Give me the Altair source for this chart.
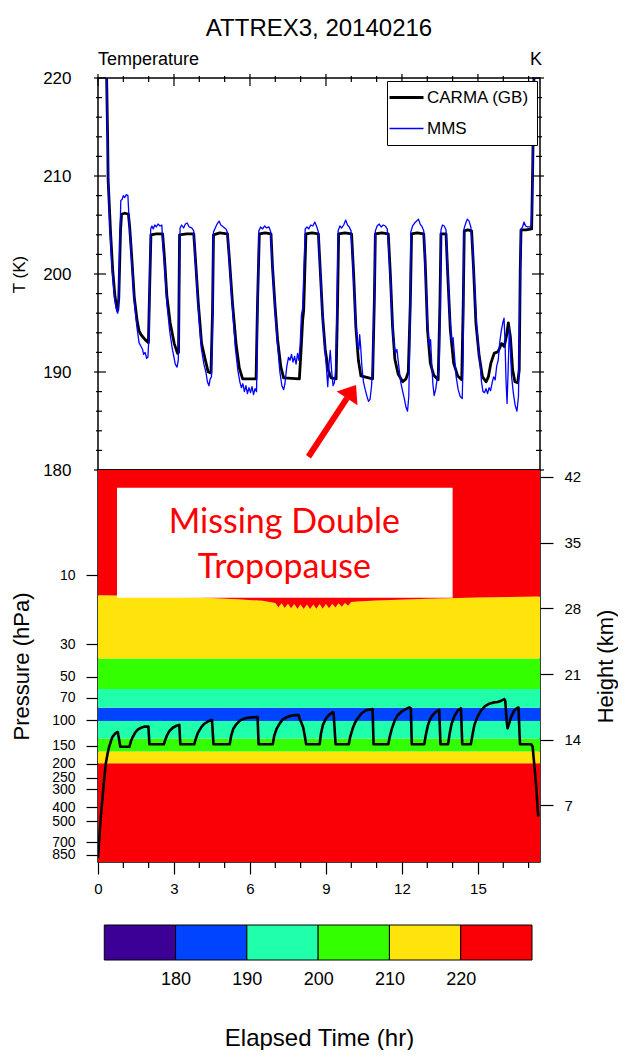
import altair as alt
import pandas as pd

# ---------------- data ----------------
series_names = ["CARMA (GB)", "MMS"]

carma_t = [0.28, 0.34, 0.38, 0.40, 0.49, 0.58, 0.67, 0.74, 0.78, 0.82, 0.86, 0.89, 0.93, 1.05, 1.20,
           1.25, 1.33, 1.43, 1.54, 1.62, 1.70, 1.86, 1.99, 2.04, 2.09, 2.30, 2.55, 2.62, 2.72, 2.85,
           3.01, 3.14, 3.18, 3.22, 3.50, 3.78, 3.84, 3.96, 4.09, 4.24, 4.35, 4.46, 4.52, 4.56, 4.80,
           5.11, 5.18, 5.31, 5.45, 5.58, 5.71, 6.24, 6.30, 6.37, 6.60, 6.83, 6.89, 6.99, 7.09, 7.22,
           7.33, 7.95, 8.01, 8.08, 8.12, 8.17, 8.21, 8.45, 8.70, 8.78, 8.87, 8.97, 9.09, 9.20, 9.40,
           9.46, 9.50, 9.75, 10.01, 10.09, 10.18, 10.28, 10.38, 10.84, 10.91, 10.95, 11.20, 11.46,
           11.54, 11.63, 11.72, 11.85, 12.03, 12.16, 12.25, 12.33, 12.38, 12.60, 12.86, 12.92, 13.01,
           13.12, 13.25, 13.43, 13.50, 13.54, 13.74, 13.80, 13.91, 14.04, 14.20, 14.36, 14.42, 14.46,
           14.60, 14.75, 14.83, 14.92, 15.05, 15.18, 15.32, 15.41, 15.51, 15.64, 15.80, 15.93, 16.04,
           16.12, 16.20, 16.28, 16.37, 16.46, 16.57, 16.63, 16.67, 16.70, 16.90, 17.12, 17.16, 17.21,
           17.25]
carma_T = [232, 220.1, 214.0, 209.6, 204.5, 200.4, 197.7, 196.6, 196.3, 197.5, 201.5, 204.5, 206.1, 206.2, 206.1,
           204.8, 201.8, 197.7, 195.3, 194.2, 193.8, 193.3, 193.0, 198.7, 204.0, 204.1, 204.1, 201.8, 197.7, 195.0,
           192.9, 191.9, 192.0, 204.0, 204.1, 204.1, 201.8, 197.0, 192.9, 191.2, 190.0, 189.9, 196.0, 204.0, 204.2,
           204.1, 201.8, 197.0, 192.9, 190.4, 189.3, 189.3, 197.3, 204.1, 204.2, 204.1, 200.7, 196.7, 193.3, 190.5,
           189.4, 189.3, 191.9, 195.3, 196.3, 200.7, 204.1, 204.2, 204.1, 200.1, 195.6, 192.3, 190.2, 189.4, 189.3,
           197.3, 204.1, 204.2, 204.1, 200.1, 194.6, 191.2, 189.6, 189.3, 197.3, 204.1, 204.2, 204.1,
           200.1, 194.6, 191.3, 189.8, 189.0, 189.3, 190.0, 197.0, 204.1, 204.2, 204.1, 201.1, 194.3,
           190.9, 189.7, 189.2, 197.0, 204.1, 204.1, 200.4, 194.3, 190.9, 189.6, 189.2, 197.0, 204.4,
           204.5, 204.4, 200.4, 195.0, 191.6, 189.5, 189.0, 189.5, 190.9, 191.9, 192.1, 192.9, 192.6,
           193.6, 195.0, 193.6, 190.2, 189.0, 188.9, 190.2, 200.4, 204.5, 204.5, 204.6, 210.6, 219.9,
           228]

mms_t = [0.30, 0.34, 0.38, 0.41, 0.48, 0.57, 0.66, 0.74, 0.78, 0.82, 0.86, 0.90, 0.95, 1.00, 1.05, 1.12,
         1.18, 1.21, 1.25, 1.33, 1.43, 1.53, 1.62, 1.70, 1.76, 1.80, 1.86, 1.92, 1.97, 2.02, 2.05, 2.08,
         2.13, 2.18, 2.24, 2.30, 2.37, 2.45, 2.52, 2.55, 2.62, 2.72, 2.83, 2.93, 3.00, 3.05, 3.12, 3.17,
         3.21, 3.24, 3.30, 3.38, 3.45, 3.52, 3.60, 3.70, 3.78, 3.84, 3.96, 4.08, 4.18, 4.26, 4.32, 4.38,
         4.43, 4.48, 4.52, 4.56, 4.63, 4.70, 4.78, 4.85, 4.95, 5.05, 5.12, 5.18, 5.30, 5.42, 5.52, 5.60,
         5.66, 5.72, 5.78, 5.84, 5.90, 5.96, 6.02, 6.08, 6.14, 6.20, 6.26, 6.30, 6.35, 6.42, 6.50, 6.58,
         6.66, 6.75, 6.82, 6.88, 6.98, 7.08, 7.18, 7.26, 7.33, 7.38, 7.45, 7.52, 7.58, 7.64, 7.70, 7.76,
         7.82, 7.88, 7.93, 7.98, 8.03, 8.08, 8.13, 8.18, 8.25, 8.32, 8.40, 8.48, 8.56, 8.64, 8.70, 8.77,
         8.86, 8.95, 9.02, 9.07, 9.12, 9.17, 9.22, 9.28, 9.33, 9.38, 9.44, 9.48, 9.55, 9.62, 9.70, 9.78,
         9.85, 9.92, 9.99, 10.06, 10.14, 10.20, 10.26, 10.30, 10.33, 10.37, 10.42, 10.48, 10.55, 10.62,
         10.68, 10.74, 10.80, 10.86, 10.91, 10.95, 11.02, 11.10, 11.18, 11.26, 11.34, 11.42, 11.48,
         11.55, 11.63, 11.70, 11.75, 11.80, 11.88, 11.95, 12.03, 12.10, 12.16, 12.22, 12.27, 12.31,
         12.35, 12.42, 12.50, 12.58, 12.65, 12.72, 12.80, 12.86, 12.92, 13.00, 13.06, 13.10, 13.13,
         13.17, 13.22, 13.27, 13.33, 13.40, 13.47, 13.51, 13.54, 13.60, 13.67, 13.74, 13.80, 13.88,
         13.96, 14.02, 14.07, 14.14, 14.22, 14.30, 14.38, 14.42, 14.45, 14.52, 14.58, 14.65, 14.72,
         14.78, 14.86, 14.94, 15.02, 15.08, 15.14, 15.20, 15.26, 15.32, 15.38, 15.44, 15.50, 15.56,
         15.62, 15.68, 15.74, 15.80, 15.86, 15.92, 15.98, 16.03, 16.07, 16.11, 16.15, 16.19, 16.24,
         16.28, 16.33, 16.40, 16.47, 16.54, 16.60, 16.65, 16.69, 16.76, 16.82, 16.88, 16.96, 17.05,
         17.10, 17.14, 17.17, 17.21, 17.24]
mms_T = [232, 220, 213.5, 209, 204, 200, 197.4, 196.2, 196.0, 197.5, 203, 207.5, 207.6, 208.0, 207.8, 208.1,
         208.0, 206.5, 204.5, 201.3, 197.2, 194.7, 193.0, 192.6, 192.3, 191.8, 192.0, 191.4, 191.5, 194, 201, 204.6,
         204.9, 204.6, 205.0, 204.8, 205.1, 204.9, 205.0, 203.5, 201.2, 197.0, 194.2, 192.4, 191.5, 190.8, 190.5, 191.2,
         198, 204.7, 205.0, 204.7, 205.1, 205.2, 204.8, 204.7, 204.4, 201.5, 196.5, 192.4, 190.8, 190.0, 189.0, 188.6,
         189.3, 189.5, 195, 204.3, 204.7, 205.1, 205.4, 205.0, 204.8, 204.6, 204.2, 201.5, 196.8, 192.5, 190.2, 189.0,
         188.4, 188.8, 188.0, 188.6, 187.8, 188.4, 187.9, 188.5, 187.7, 188.3, 188.0, 196, 204.4, 204.8, 204.6, 204.9,
         204.7, 204.8, 204.3, 201, 196.8, 193.0, 190.0, 188.6, 188.2, 188.8, 190.5, 191.5, 191.2, 191.8, 191.0, 191.6,
         190.8, 191.9, 191.2, 192.8, 195.8, 196.5, 200.5, 204.6, 204.8, 204.6, 205.0, 204.9, 205.3, 204.8, 204.3, 200.5,
         196.0, 192.6, 190.4, 188.5, 190.8, 192.2, 190.2, 188.6, 188.9, 190.0, 197, 204.4, 204.9, 204.7, 205.0, 205.5,
         205.0, 204.8, 204.4, 201.0, 196.8, 194.2, 192.5, 192.3, 193.8, 192.6, 190.5, 189.0, 188.2, 187.5,
         187.0, 187.2, 188.6, 191.5, 198, 204.4, 204.9, 205.1, 204.8, 205.0, 204.9, 204.6, 202.5,
         199.0, 194.5, 192.5, 192.0, 192.3, 190.5, 189.0, 188.0, 187.2, 186.4, 186.0, 187.5, 193,
         204.3, 204.9, 205.2, 205.4, 205.6, 205.1, 204.8, 204.4, 200.8, 195.5, 193.0, 192.6, 193.3,
         191.2, 188.8, 187.6, 188.2, 189.5, 190.2, 197, 204.5, 205.0, 204.9, 204.5, 201.0, 196.0,
         193.2, 193.5, 191.8, 189.5, 188.2, 187.5, 187.3, 192, 204.6, 205.2, 205.6, 205.4, 204.8,
         203.0, 199.0, 195.0, 192.5, 191.0, 189.0, 188.0, 187.9, 188.3, 187.8, 188.4, 188.1, 188.9,
         189.5, 189.2, 190.6, 191.2, 193.0, 194.2, 195.0, 195.5, 193.0, 189.0, 186.8, 190.0, 194.5,
         192.5, 189.5, 187.8, 186.6, 186.0, 187.5, 196, 204.5, 204.8, 205.3, 204.9, 204.8, 204.8,
         204.9, 207.0, 213.0, 220.0, 228]

# tropopause pressure along the flight (hPa)
trop_t = [0.00, 0.09, 0.18, 0.25, 0.31, 0.38, 0.44, 0.52, 0.58, 0.66, 0.73, 0.78, 0.83, 0.88, 1.24, 1.30,
          1.38, 1.48, 1.58, 1.70, 1.83, 1.99, 2.03, 2.60, 2.65, 2.72, 2.82, 2.95, 3.10, 3.21, 3.25, 3.80,
          3.86, 3.95, 4.08, 4.20, 4.35, 4.50, 4.56, 5.20, 5.26, 5.34, 5.46, 5.60, 5.75, 5.91, 6.10, 6.30,
          6.34, 6.90, 6.96, 7.05, 7.18, 7.30, 7.45, 7.62, 7.80, 7.92, 7.98, 8.02, 8.06, 8.10, 8.15, 8.22,
          8.75, 8.80, 8.88, 9.00, 9.12, 9.26, 9.30, 9.38, 9.90, 9.96, 10.05, 10.15, 10.25, 10.40, 10.58,
          10.84, 10.88, 11.46, 11.52, 11.60, 11.72, 11.83, 12.00, 12.15, 12.29, 12.35, 12.39, 12.88,
          12.95, 13.03, 13.12, 13.22, 13.35, 13.47, 13.52, 13.82, 13.88, 13.96, 14.07, 14.20, 14.33,
          14.38, 14.72, 14.78, 14.86, 14.98, 15.12, 15.28, 15.45, 15.62, 15.78, 15.92, 16.04, 16.08,
          16.13, 16.17, 16.22, 16.30, 16.43, 16.55, 16.60, 16.66, 17.10, 17.16, 17.22, 17.29, 17.38]
trop_p = [903, 517, 339, 250, 199, 170, 153, 138, 130, 125, 122, 121, 135, 153, 153, 140,
          130, 121, 116, 113, 111, 111, 147, 147, 138, 128, 119, 113, 109.5, 108, 147, 147,
          135, 122, 112, 106, 102, 100, 147, 147, 128, 115, 107, 101, 98, 96.5, 95.8, 95.5,
          147, 147, 128, 115, 105, 99, 95.5, 93.3, 92.5, 92.4, 100, 103, 108, 112, 125, 147,
          147, 125, 108, 97.5, 92, 88.4, 89, 147, 147, 130, 115, 104, 97.5, 90, 85.5,
          84, 147, 147, 130, 115, 100, 92.5, 87, 84, 81.7, 83, 147, 147,
          125, 108, 98, 92, 87.5, 85, 147, 147, 125, 106, 94, 86, 83,
          147, 147, 128, 108, 95, 86, 80, 77, 75.5, 75, 73.5, 71.7, 74,
          100, 114, 107, 96, 86, 82.5, 82, 147, 147, 153, 200, 273, 465]

# temperature layers of the contour field: boundaries (hPa) from the bottom up
layer_p = [957, 199, 165, 134, 101.6, 82.2, 61.1, 37.5]
layer_T = [225, 215, 205, 195, 185, 195, 205, 215]   # temperature inside each layer (K)
top_T = 225                                          # above the wavy 220 K contour
edge_t = [0, 2, 4, 5.5, 6.5, 7.0, 7.12, 7.25, 7.37, 7.5, 7.62, 7.75, 7.87, 8.0, 8.12, 8.25, 8.37,
          8.5, 8.62, 8.75, 8.87, 9.0, 9.12, 9.25, 9.37, 9.5, 9.62, 9.75, 9.87, 10.0, 10.4, 11, 13,
          15, 17.45]
edge_p = [13.7, 13.9, 14.2, 14.6, 15.0, 15.5, 16.6, 15.6, 16.8, 15.7, 16.9, 15.8, 17.0, 15.9, 17.1,
          15.9, 17.1, 15.9, 17.0, 15.8, 17.0, 15.8, 16.9, 15.7, 16.7, 15.6, 16.5, 15.5, 16.2, 15.3,
          15.1, 14.9, 14.5, 14.2, 14.0]

levels = [180, 190, 200, 210, 220]
level_colors = ["#3c0096", "#0044ff", "#20ffaa", "#33ff00", "#ffe40c", "#fa0006"]
cb_lo = [170, 180, 190, 200, 210, 220]
cb_hi = [180, 190, 200, 210, 220, 230]

t_major = [0, 3, 6, 9, 12, 15]
t_minor = [1, 2, 4, 5, 7, 8, 10, 11, 13, 14, 16, 17]
T_major = [180, 190, 200, 210, 220]
T_minor = [v for v in range(182, 220, 2) if v % 10 != 0]
p_ticks = [10, 30, 50, 70, 100, 150, 200, 250, 300, 400, 500, 700, 850]
z_ticks = [7, 14, 21, 28, 35, 42]

# ---------------- frames ----------------
T_END = 17.45
P_TOP, P_BOT = 1.87, 957
FONT = "Liberation Sans"
W, H = 442, 392

temp_df = pd.concat([
    pd.DataFrame({"t": carma_t, "T": carma_T, "series": series_names[0]}),
    pd.DataFrame({"t": mms_t, "T": mms_T, "series": series_names[1]}),
], ignore_index=True)

rows = []
n = len(layer_T)
for i in range(n):
    if i < n - 1:
        for tt in (0, T_END):
            rows.append({"band": i, "t": tt, "p0": layer_p[i], "p1": layer_p[i + 1], "T": layer_T[i]})
    else:
        for tt, pe in zip(edge_t, edge_p):
            rows.append({"band": i, "t": tt, "p0": layer_p[i], "p1": pe, "T": layer_T[i]})
for tt, pe in zip(edge_t, edge_p):
    rows.append({"band": n, "t": tt, "p0": pe, "p1": P_TOP, "T": top_T})
band_df = pd.DataFrame(rows)
trop_df = pd.DataFrame({"t": trop_t, "p": trop_p})
cb_df = pd.DataFrame({"lo": cb_lo, "hi": cb_hi, "mid": [(a + b) / 2 for a, b in zip(cb_lo, cb_hi)]})
one = pd.DataFrame({"a": [0]})

x_scale = alt.Scale(domain=[0, T_END], nice=False, zero=False)
T_scale = alt.Scale(domain=[180, 220], nice=False, zero=False)
p_scale = alt.Scale(type="log", domain=[P_TOP, P_BOT], reverse=True, nice=False)
z_scale = alt.Scale(domain=[0.97, 42.74], nice=False, zero=False)
c_scale = alt.Scale(type="threshold", domain=levels, range=level_colors)

# ---------------- upper panel: temperature ----------------
T_axis = alt.Axis(values=T_major, ticks=True, tickSize=8, tickOpacity=0, domain=False, grid=False,
                  labelPadding=19, labelFontSize=17, title="T (K)", titleFontSize=17, titlePadding=14,
                  format="d")
leg = alt.Legend(title=None, orient="top-right", offset=3, symbolType="M-1.7,0H1.7", symbolSize=400,
                 symbolOffset=3, symbolStrokeWidth=alt.ExprRef("datum.value == 'MMS' ? 1.3 : 2.8"),
                 labelFontSize=17, labelFont=FONT, labelColor="black", padding=8, rowPadding=13,
                 strokeColor="black", fillColor="white", labelOffset=12, cornerRadius=0)

lines = alt.Chart(temp_df).mark_line(clip=True, strokeJoin="round").encode(
    x=alt.X("t:Q", scale=x_scale, axis=None),
    y=alt.Y("T:Q", scale=T_scale, axis=T_axis),
    color=alt.Color("series:N", scale=alt.Scale(domain=series_names, range=["black", "#0000ff"]), legend=leg),
    strokeWidth=alt.StrokeWidth("series:N", scale=alt.Scale(domain=series_names, range=[2.8, 1.3]), legend=None),
)


def xticks(vals, a, b):
    return alt.Chart(pd.DataFrame({"v": vals})).mark_rule(color="black", strokeWidth=1.2).encode(
        x=alt.X("v:Q", scale=x_scale, axis=None), y=alt.value(a), y2=alt.value(b))


def yticks(vals, a, b):
    return alt.Chart(pd.DataFrame({"v": vals})).mark_rule(color="black", strokeWidth=1.2).encode(
        y=alt.Y("v:Q", scale=T_scale, axis=T_axis), x=alt.value(a), x2=alt.value(b))


tick_layers = [
    xticks(t_major, -4, 8), xticks(t_minor, -2, 4),
    yticks(T_major, -4, 8), yticks(T_minor, -2, 4),
    yticks(T_major, W + 4, W - 8), yticks(T_minor, W + 2, W - 4),
]

arrow_shaft = alt.Chart(one).mark_rule(color="#ff0000", strokeWidth=6).encode(
    x=alt.datum(8.31), y=alt.datum(181.35), x2=alt.datum(9.83), y2=alt.datum(187.33))
arrow_head = alt.Chart(one).mark_point(shape="M-1,0.65L0,-0.65L1,0.65Z", size=625, filled=True,
                                       color="#ff0000", opacity=1, angle=33.5).encode(
    x=alt.datum(10.01), y=alt.datum(187.99))

left_str = alt.Chart(one).mark_text(text="Temperature", align="left", baseline="alphabetic",
                                    fontSize=18, font=FONT, color="black").encode(
    x=alt.value(0), y=alt.value(-13))
right_str = alt.Chart(one).mark_text(text="K", align="right", baseline="alphabetic",
                                     fontSize=18, font=FONT, color="black").encode(
    x=alt.value(W + 2), y=alt.value(-13))

upper = alt.layer(lines, *tick_layers, arrow_shaft, arrow_head, left_str, right_str).properties(
    width=W, height=H,
    title=alt.TitleParams("ATTREX3, 20140216", fontSize=24, fontWeight="normal", font=FONT,
                          anchor="middle", frame="group", offset=10, color="black"),
)

# ---------------- lower panel: temperature field vs pressure ----------------
x_axis_b = alt.Axis(values=t_major, tickSize=12, tickWidth=1.2, labelPadding=7, labelFontSize=15,
                    domain=False, grid=False, format="d", labelFlush=False)
p_axis = alt.Axis(values=p_ticks, format="d", tickSize=12, tickWidth=1.2, labelPadding=11,
                  labelFontSize=14, domain=False, grid=False, title="Pressure (hPa)",
                  titleFontSize=22, titlePadding=18, labelOverlap=False)

bands = alt.Chart(band_df).mark_area(clip=True).encode(
    x=alt.X("t:Q", scale=x_scale, axis=x_axis_b, title=None),
    y=alt.Y("p0:Q", scale=p_scale, axis=p_axis, stack=None),
    y2="p1:Q",
    color=alt.Color("T:Q", scale=c_scale, legend=None),
    detail="band:N",
)
trop = alt.Chart(trop_df).mark_line(color="black", strokeWidth=2.6, clip=True, strokeJoin="round").encode(
    x=alt.X("t:Q", scale=x_scale, axis=x_axis_b, title=None),
    y=alt.Y("p:Q", scale=p_scale, axis=p_axis),
)
minor_x = alt.Chart(pd.DataFrame({"v": t_minor})).mark_rule(color="black", strokeWidth=1.2).encode(
    x=alt.X("v:Q", scale=x_scale, axis=x_axis_b, title=None), y=alt.value(H), y2=alt.value(H + 6))
note_box = alt.Chart(one).mark_rect(color="white").encode(
    x=alt.datum(0.75), x2=alt.datum(14.0), y=alt.datum(14.3), y2=alt.datum(2.48))
note_txt = alt.Chart(one).mark_text(text=["Missing Double", "Tropopause"], lineHeight=45,
                                    font="Lato", fontSize=34, color="#ff0000", align="center",
                                    baseline="alphabetic").encode(
    x=alt.datum(7.36), y=alt.datum(5.13))

z_layer = alt.Chart(pd.DataFrame({"z": z_ticks})).mark_point(opacity=0).encode(
    x=alt.value(0),
    y=alt.Y("z:Q", scale=z_scale,
            axis=alt.Axis(orient="right", values=z_ticks, format="d", tickSize=13, tickWidth=1.2,
                          labelPadding=11, labelFontSize=15, domain=False, grid=False,
                          title="Height (km)", titleFontSize=22, titlePadding=15, titleAngle=270,
                          titleBaseline="top")),
)

lower = alt.layer(alt.layer(bands, trop, minor_x, note_box, note_txt), z_layer).resolve_scale(
    y="independent").properties(width=W, height=H)

# ---------------- colour bar ----------------
cbar = alt.Chart(cb_df).mark_rect(stroke="black", strokeWidth=1).encode(
    x=alt.X("lo:Q", scale=alt.Scale(domain=[169.12, 231.12], nice=False, zero=False),
            axis=alt.Axis(values=levels, format="d", ticks=False, domain=False, grid=False,
                          labelFontSize=18, labelPadding=10, title="Elapsed Time (hr)",
                          titleFontSize=24, titlePadding=38)),
    x2="hi:Q",
    color=alt.Color("mid:Q", scale=c_scale, legend=None),
).properties(width=W, height=35, view=alt.ViewBackground(strokeOpacity=0))

chart = alt.vconcat(alt.vconcat(upper, lower, spacing=0, bounds="flush"), cbar, spacing=27).properties(
    padding={"left": 9, "top": 16, "right": 0, "bottom": 0}, background="white"
).configure(font=FONT).configure_view(stroke="black", strokeWidth=1.5).configure_axis(
    labelColor="black", titleColor="black", tickColor="black", titleFontWeight="normal",
    labelFont=FONT, titleFont=FONT)

chart.save("out.html", embed_options={"renderer": "svg", "actions": False})
